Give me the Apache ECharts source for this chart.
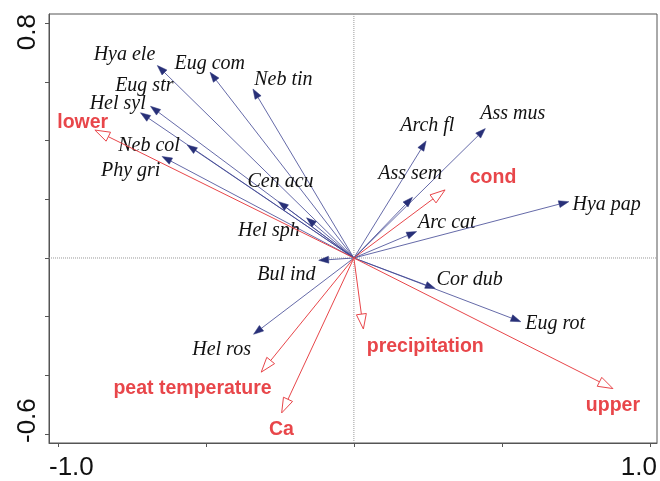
<!DOCTYPE html>
<html>
<head>
<meta charset="utf-8">
<script src="https://cdn.jsdelivr.net/npm/echarts@6/dist/echarts.min.js"></script>
<style>
html, body { margin: 0; padding: 0; background: #fff; }
#main { width: 660px; height: 481px; }
</style>
</head>
<body>
<div id="main"></div>
<script>
//-----------------------------------------------------------------------------------------
// 数据：物种得分（箭头端点）
//-----------------------------------------------------------------------------------------
var speciesNames = ['Hya ele', 'Eug com', 'Neb tin', 'Eug str', 'Hel syl', 'Neb col', 'Phy gri',
    'Cen acu', 'Hel sph', 'Bul ind', 'Hel ros', 'Arch fl', 'Ass mus', 'Ass sem', 'Arc cat',
    'Hya pap', 'Cor dub', 'Eug rot'];
var speciesX = [-0.664, -0.486, -0.341, -0.687, -0.721, -0.563, -0.648,
    -0.255, -0.160, -0.119, -0.339, 0.244, 0.444, 0.198, 0.212,
    0.726, 0.275, 0.564];
var speciesY = [0.656, 0.633, 0.576, 0.517, 0.495, 0.385, 0.346,
    0.192, 0.137, -0.008, -0.260, 0.399, 0.441, 0.207, 0.090,
    0.192, -0.104, -0.217];
// 标签位置（数据坐标）
var speciesLabelX = [-0.775, -0.487, -0.238, -0.708, -0.798, -0.692, -0.754,
    -0.248, -0.287, -0.228, -0.447, 0.248, 0.537, 0.190, 0.314,
    0.854, 0.391, 0.680];
var speciesLabelY = [0.699, 0.669, 0.614, 0.594, 0.533, 0.389, 0.303,
    0.265, 0.099, -0.052, -0.306, 0.456, 0.500, 0.293, 0.127,
    0.187, -0.067, -0.217];

//-----------------------------------------------------------------------------------------
// 数据：环境变量
//-----------------------------------------------------------------------------------------
var envNames = ['lower', 'cond', 'precipitation', 'peat temperature', 'Ca', 'upper'];
var envX = [-0.875, 0.308, 0.032, -0.313, -0.244, 0.875];
var envY = [0.436, 0.232, -0.242, -0.389, -0.528, -0.445];
var envLabelX = [-0.916, 0.470, 0.241, -0.545, -0.245, 0.875];
var envLabelY = [0.469, 0.282, -0.296, -0.437, -0.577, -0.495];

// 坐标轴
var xTicks = [-1.0, -0.5, 0, 0.5, 1.0];
var yTicks = [-0.6, -0.4, -0.2, 0, 0.2, 0.4, 0.6, 0.8];
var xRange = [-1.03, 1.024];
var yRange = [-0.6305, 0.8315];

var speciesColor = '#283078';
var speciesLine = '#3d4492';
var envColor = '#e8464a';

function toPairs(xs, ys) {
    return xs.map(function (x, i) { return [x, ys[i]]; });
}

// 箭头 + 标签
function arrowRenderer(names, lx, ly, opt) {
    return function (params, api) {
        var i = params.dataIndex;
        var o = api.coord([0, 0]);
        var p = api.coord([api.value(0), api.value(1)]);
        var dx = p[0] - o[0], dy = p[1] - o[1];
        var len = Math.sqrt(dx * dx + dy * dy);
        var ux = dx / len, uy = dy / len;
        var bx = p[0] - ux * opt.headLen, by = p[1] - uy * opt.headLen;
        var nx = -uy * opt.headHalf, ny = ux * opt.headHalf;
        var t = api.coord([lx[i], ly[i]]);
        return {
            type: 'group',
            children: [{
                type: 'line',
                shape: { x1: o[0], y1: o[1], x2: bx, y2: by },
                style: { stroke: opt.lineColor, lineWidth: opt.lineWidth }
            }, {
                type: 'polygon',
                shape: { points: [[p[0], p[1]], [bx + nx, by + ny], [bx - nx, by - ny]] },
                style: { fill: opt.fill, stroke: opt.color, lineWidth: opt.headStroke }
            }, {
                type: 'text',
                x: t[0],
                y: t[1] + 2,
                style: {
                    text: names[i],
                    fill: opt.textColor,
                    font: opt.font,
                    align: 'center',
                    verticalAlign: 'middle'
                }
            }]
        };
    };
}

var chart = echarts.init(document.getElementById('main'));
var axisColor = '#555';

var option = {
    animation: false,
    backgroundColor: '#fff',
    grid: {
        left: 49, right: 2, top: 14, bottom: 35,
        show: true, borderColor: axisColor, borderWidth: 1
    },
    xAxis: {
        type: 'value',
        min: xRange[0],
        max: xRange[1],
        splitLine: { show: false },
        axisLine: { show: true, onZero: false, lineStyle: { color: axisColor } },
        axisTick: { show: true, customValues: xTicks, length: 4, lineStyle: { color: axisColor } },
        axisLabel: {
            customValues: xRange,
            showMinLabel: true,
            showMaxLabel: true,
            alignMinLabel: 'left',
            alignMaxLabel: 'right',
            formatter: function (v) { return v.toFixed(1); },
            fontFamily: 'Liberation Sans',
            fontSize: 26,
            color: '#111',
            margin: 12
        }
    },
    yAxis: {
        type: 'value',
        min: yRange[0],
        max: yRange[1],
        splitLine: { show: false },
        axisLine: { show: true, onZero: false, lineStyle: { color: axisColor } },
        axisTick: { show: true, customValues: yTicks, length: 4, lineStyle: { color: axisColor } },
        axisLabel: {
            customValues: yRange,
            showMinLabel: true,
            showMaxLabel: true,
            rotate: 90,
            alignMinLabel: 'left',
            alignMaxLabel: 'right',
            formatter: function (v) { return v.toFixed(1); },
            fontFamily: 'Liberation Sans',
            fontSize: 26,
            color: '#111',
            margin: 8
        }
    },
    series: [{
        // x=0 虚线
        type: 'line',
        silent: true,
        symbol: 'none',
        data: [[0, yRange[0]], [0, yRange[1]]],
        lineStyle: { color: '#999', width: 1, type: 'dotted' },
        z: 1
    }, {
        // y=0 虚线
        type: 'line',
        silent: true,
        symbol: 'none',
        data: [[xRange[0], 0], [xRange[1], 0]],
        lineStyle: { color: '#999', width: 1, type: 'dotted' },
        z: 1
    }, {
        type: 'custom',
        silent: true,
        data: toPairs(speciesX, speciesY),
        renderItem: arrowRenderer(speciesNames, speciesLabelX, speciesLabelY, {
            color: speciesColor, lineColor: speciesLine, lineWidth: 0.8,
            fill: speciesColor, headLen: 10, headHalf: 3.5, headStroke: 0.5,
            textColor: '#111', font: 'italic 20px "Liberation Serif"'
        }),
        z: 3
    }, {
        type: 'custom',
        silent: true,
        data: toPairs(envX, envY),
        renderItem: arrowRenderer(envNames, envLabelX, envLabelY, {
            color: envColor, lineColor: envColor, lineWidth: 1,
            fill: '#fff', headLen: 15, headHalf: 5, headStroke: 1,
            textColor: envColor, font: 'bold 19.5px "Liberation Sans"'
        }),
        z: 4
    }]
};

chart.setOption(option);
</script>
</body>
</html>
